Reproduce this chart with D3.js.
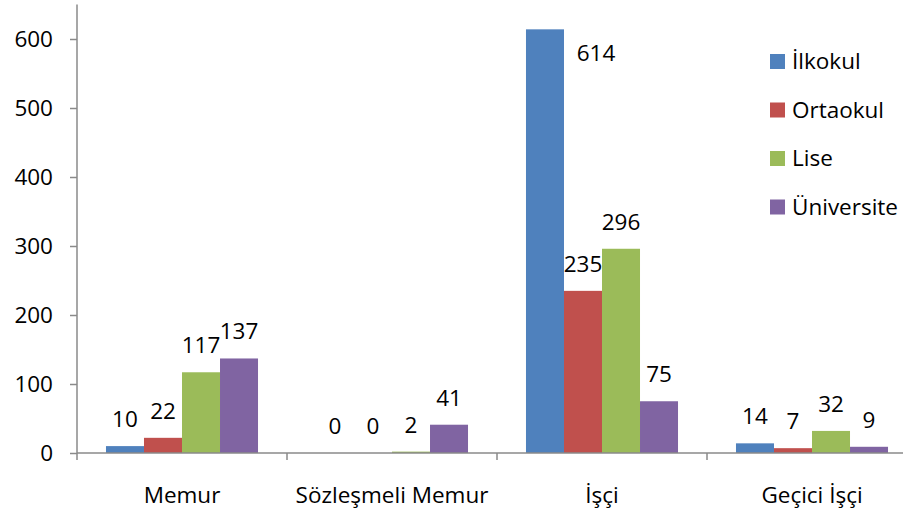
<!DOCTYPE html>
<html>
<head>
<meta charset="utf-8">
<script src="https://cdn.jsdelivr.net/npm/d3@7"></script>
<style>
html,body{margin:0;padding:0;background:#fff;}
svg text{font-family:"Open Sans","Liberation Sans",Arial,sans-serif;font-size:22.5px;fill:#000;}
</style>
</head>
<body>
<svg id="chart" width="903" height="513"></svg>
<script>
const categories = ["Memur", "Sözleşmeli Memur", "İşçi", "Geçici İşçi"];
const series = ["İlkokul", "Ortaokul", "Lise", "Üniversite"];
const ilkokul = [10, 0, 614, 14];
const ortaokul = [22, 0, 235, 7];
const lise = [117, 2, 296, 32];
const universite = [137, 41, 75, 9];
const yTicks = [0, 100, 200, 300, 400, 500, 600];
const colors = ["#4F81BD", "#C0504D", "#9BBB59", "#8064A2"];

const values = [ilkokul, ortaokul, lise, universite];
const svg = d3.select("#chart");
const axisColor = "#8a8a8a";

const x0 = d3.scaleBand().domain(categories).range([77, 917]).padding(0);
const bw = x0.bandwidth();
const x1 = d3.scaleBand().domain(series).range([bw * 0.138, bw * 0.862]).padding(0);
const y = d3.scaleLinear().domain([0, 650]).range([453, 4.5]);

// bars
const g = svg.append("g");
categories.forEach((c, ci) => {
  series.forEach((s, si) => {
    const v = values[si][ci];
    if (v > 0) {
      g.append("rect")
        .attr("x", x0(c) + x1(s))
        .attr("y", y(v))
        .attr("width", x1.bandwidth())
        .attr("height", y(0) - y(v))
        .attr("fill", colors[si]);
    }
  });
});

// y axis
const yAxis = d3.axisLeft(y).tickValues(yTicks).tickSize(7).tickPadding(17);
const ya = svg.append("g").attr("transform", "translate(77,0)").call(yAxis);
ya.select(".domain").remove();
ya.selectAll(".tick line").attr("stroke", axisColor).attr("stroke-width", 1.5);
ya.selectAll(".tick text").attr("font-size", null).attr("font-family", null).attr("fill", "#000");
svg.append("line").attr("x1", 77).attr("x2", 77).attr("y1", y.range()[1]).attr("y2", y(0))
  .attr("stroke", axisColor).attr("stroke-width", 1.5);

// x axis
svg.append("line").attr("x1", 77).attr("x2", 903).attr("y1", y(0)).attr("y2", y(0))
  .attr("stroke", axisColor).attr("stroke-width", 1.5);
const boundaries = categories.map(c => x0(c)).concat([x0(categories[categories.length - 1]) + bw]);
svg.selectAll(".xtick").data(boundaries).enter().append("line")
  .attr("x1", d => d).attr("x2", d => d).attr("y1", y(0)).attr("y2", y(0) + 7)
  .attr("stroke", axisColor).attr("stroke-width", 1.5);
svg.selectAll(".xlab").data(categories).enter().append("text")
  .attr("x", d => x0(d) + bw / 2).attr("y", 503).attr("text-anchor", "middle").text(d => d);

// data labels
categories.forEach((c, ci) => {
  series.forEach((s, si) => {
    const v = values[si][ci];
    let lx = x0(c) + x1(s) + x1.bandwidth() / 2;
    let ly = y(v) - 19;
    if (ly < 30) { // label would leave the plot: place it beside the bar
      lx = x0(c) + x1(s) + x1.bandwidth() + 32;
      ly = y(v) + 32;
    }
    svg.append("text").attr("x", lx).attr("y", ly).attr("text-anchor", "middle").text(v);
  });
});

// legend
const lg = svg.append("g");
series.forEach((s, i) => {
  const ly = 54 + i * 48.5;
  lg.append("rect").attr("x", 770).attr("y", ly).attr("width", 15).attr("height", 15).attr("fill", colors[i]);
  lg.append("text").attr("x", 792).attr("y", ly + 15).text(s);
});
</script>
</body>
</html>
